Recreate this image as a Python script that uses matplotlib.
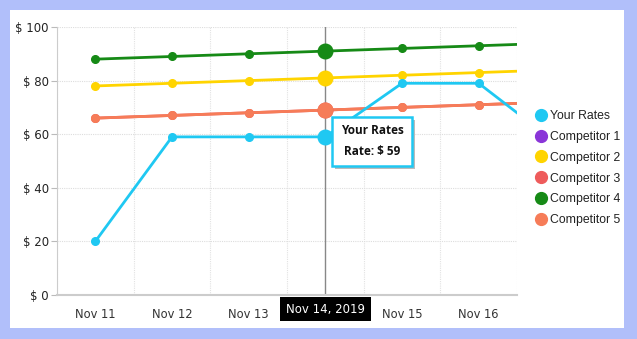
import matplotlib.pyplot as plt
from matplotlib.patches import Rectangle
from matplotlib.lines import Line2D
import numpy as np

days = ["Nov 11", "Nov 12", "Nov 13", "Nov 14", "Nov 15", "Nov 16", "Nov 17"]
your_rates = [20, 59, 59, 59, 79, 79, 57]
competitor1 = []
competitor2 = [78, 79, 80, 81, 82, 83, 84]
competitor3 = [66, 67, 68, 69, 70, 71, 72]
competitor4 = [88, 89, 90, 91, 92, 93, 94]
competitor5 = [66, 67, 68, 69, 70, 71, 72]
yticks = [0, 20, 40, 60, 80, 100]
hover_idx = 3
hover_date = "Nov 14, 2019"

series = [
    ("Your Rates", your_rates, "#1fc8f2"),
    ("Competitor 1", competitor1, "#8a35d8"),
    ("Competitor 2", competitor2, "#ffd400"),
    ("Competitor 3", competitor3, "#ee5b5b"),
    ("Competitor 4", competitor4, "#168a16"),
    ("Competitor 5", competitor5, "#f67c58"),
]

W, H = 637, 339
fig = plt.figure(figsize=(W / 100, H / 100), dpi=100)
fig.patch.set_facecolor("#b1bffa")
# white card behind everything
card = fig.add_axes([10 / W, 1 - 328 / H, 614 / W, 318 / H])
card.set_zorder(-1)
card.set_facecolor("white")
card.axis("off")
card.add_patch(Rectangle((0, 0), 1, 1, transform=card.transAxes,
                         fc="white", ec="none"))

ax = fig.add_axes([57 / W, 1 - 295 / H, 460 / W, 268 / H])
ax.set_zorder(1)
ax.set_facecolor("none")
x = np.arange(len(days))

# competitors first, own rates on top
for name, vals, col in series[1:] + series[:1]:
    if not vals:
        continue
    xi = x[:len(vals)]
    ax.plot(xi, vals, color=col, lw=2, marker="o", ms=5.5, zorder=3,
            solid_capstyle="round")
    ax.plot(xi[hover_idx], vals[hover_idx], "o", color=col, ms=10.5, zorder=4)

ax.set_xlim(-0.5, 5.5)
ax.set_ylim(0, 100)
ax.set_yticks(yticks)
ax.set_yticklabels(["$ %d" % v for v in yticks], fontsize=8.5, color="#222222")
ax.set_xticks(x[:6])
labels = list(days[:6])
labels[hover_idx] = ""
ax.set_xticklabels(labels, fontsize=8.3, color="#333333")

# gridlines between categories
for b in np.arange(-0.5, 6, 1.0):
    ax.axvline(b, color="#e2e2e2", lw=0.8, ls=(0, (1, 1)), zorder=1)
for v in yticks[1:]:
    ax.axhline(v, color="#dddddd", lw=0.8, ls=(0, (1, 1)), zorder=1)

for s in ["top", "right"]:
    ax.spines[s].set_visible(False)
ax.spines["left"].set_color("#cccccc")
ax.spines["bottom"].set_color("#cccccc")
ax.spines["bottom"].set_linewidth(1.5)
ax.tick_params(axis="y", length=4, color="#bbbbbb", pad=2)
ax.tick_params(axis="x", length=0, pad=9)

# crosshair
ax.axvline(hover_idx, color="#888888", lw=1, zorder=2)
ax.text(hover_idx, -0.028, hover_date, transform=ax.get_xaxis_transform(),
        ha="center", va="top", color="white", fontsize=8.5,
        bbox=dict(boxstyle="square,pad=0.5", fc="black", ec="none"))

# tooltip
fig.canvas.draw()
px, py = ax.transData.transform((hover_idx, your_rates[hover_idx]))
bx, by, bw, bh = px + 7, py - 29, 80, 49
fig.patches.append(Rectangle(((bx + 3) / W, (by - 3) / H), bw / W, bh / H,
                             transform=fig.transFigure, fc="#bbbbbb",
                             ec="none", zorder=5))
fig.patches.append(Rectangle((bx / W, by / H), bw / W, bh / H,
                             transform=fig.transFigure, fc="white",
                             ec="#1fc8f2", lw=1.8, zorder=6))
tip_font = dict(family="Open Sans", size=8.5, weight="bold", color="#111111")
fig.text((bx + bw / 2) / W, (by + 35) / H, "Your Rates", ha="center",
         va="center", zorder=7, **tip_font)
fig.text((bx + bw / 2) / W, (by + 14) / H, "Rate: $ %d" % your_rates[hover_idx],
         ha="center", va="center", zorder=7, **tip_font)

handles = [Line2D([], [], ls="none", marker="o", ms=8.5, color=c) for _, _, c in series]
leg = fig.legend(handles, [n for n, _, _ in series], loc="upper left",
                 bbox_to_anchor=(526 / W, 1 - 104 / H), frameon=False,
                 handletextpad=0.1, labelspacing=0.72, handlelength=1.4,
                 borderpad=0, prop={"family": "Liberation Sans", "size": 8.8})
for t in leg.get_texts():
    t.set_color("#222222")

fig.savefig("out.png", dpi=100, facecolor=fig.get_facecolor())
